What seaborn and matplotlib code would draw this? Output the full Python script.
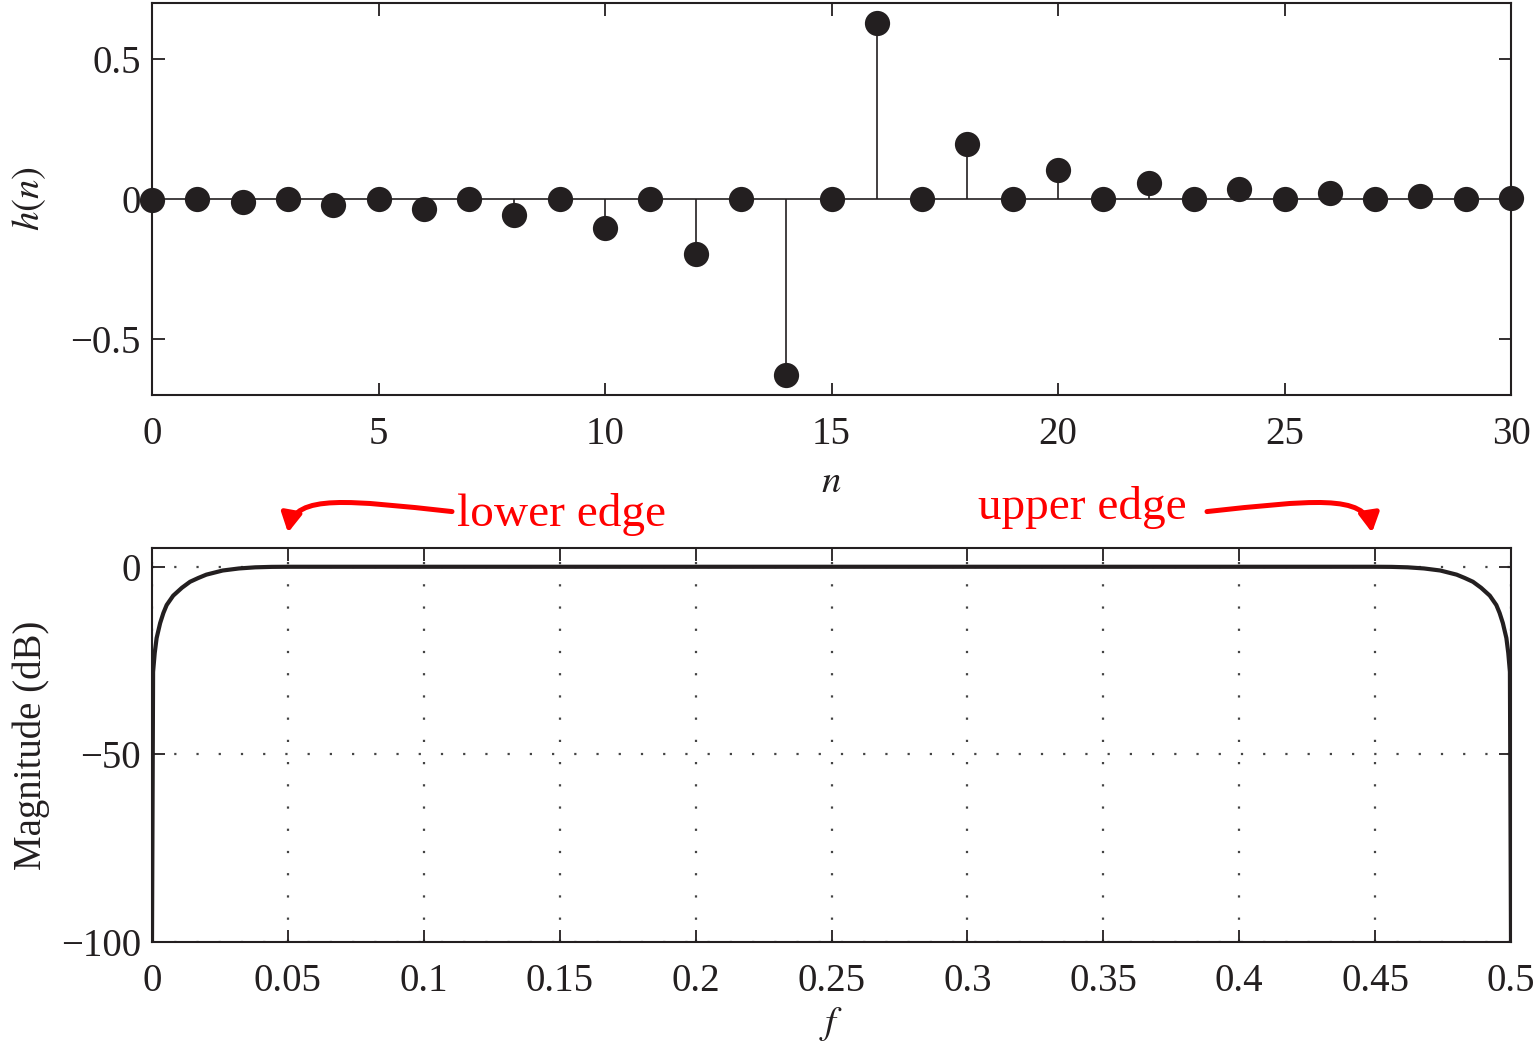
import numpy as np
import pandas as pd
import matplotlib
matplotlib.use("Agg")
import matplotlib.pyplot as plt
import seaborn as sns
from matplotlib.path import Path
from matplotlib.patches import FancyArrowPatch

# ---------------- data ----------------
n_idx = list(range(31))
h_vals = [-0.003, 0.0, -0.009, 0.0, -0.020, 0.0, -0.035, 0.0, -0.058, 0.0,
          -0.103, 0.0, -0.197, 0.0, -0.630, 0.0, 0.630, 0.0, 0.197, 0.0,
          0.103, 0.0, 0.058, 0.0, 0.035, 0.0, 0.020, 0.0, 0.009, 0.0, 0.003]

f_vals = [0.0, 0.0004, 0.0010, 0.0017, 0.0030, 0.0042, 0.0054, 0.0078, 0.011,
          0.014, 0.017, 0.020, 0.026, 0.032, 0.038, 0.044, 0.05, 0.1, 0.25,
          0.4, 0.45, 0.456, 0.462, 0.468, 0.474, 0.480, 0.483, 0.486, 0.489,
          0.4922, 0.4946, 0.4958, 0.4970, 0.4983, 0.4990, 0.4996, 0.5]
mag_db = [-100, -28, -23, -19, -15, -12.3, -10.2, -7.7, -5.6,
          -4.0, -3.0, -2.1, -1.0, -0.45, -0.15, -0.03, 0.0, 0.0, 0.0,
          0.0, 0.0, -0.03, -0.15, -0.45, -1.0, -2.1, -3.0, -4.0, -5.6,
          -7.7, -10.2, -12.3, -15, -19, -23, -28, -100]

top_xticks = [0, 5, 10, 15, 20, 25, 30]
top_xlabels = ["0", "5", "10", "15", "20", "25", "30"]
top_yticks = [-0.5, 0, 0.5]
top_ylabels = ["\u22120.5", "0", "0.5"]
bot_xticks = [0, 0.05, 0.1, 0.15, 0.2, 0.25, 0.3, 0.35, 0.4, 0.45, 0.5]
bot_xlabels = ["0", "0.05", "0.1", "0.15", "0.2", "0.25", "0.3", "0.35", "0.4", "0.45", "0.5"]
bot_yticks = [-100, -50, 0]
bot_ylabels = ["\u2212100", "\u221250", "0"]

df_h = pd.DataFrame({"n": n_idx, "h": h_vals})
df_m = pd.DataFrame({"f": f_vals, "dB": mag_db})

# ---------------- style ----------------
sns.set_theme(style="ticks")
plt.rcParams["font.family"] = ["Liberation Serif", "DejaVu Serif"]
plt.rcParams["mathtext.fontset"] = "stix"
plt.rcParams["axes.unicode_minus"] = True

ink = "#231f20"
fs = 28

fig = plt.figure(figsize=(15.33, 10.41), dpi=100)
W, H = 1533, 1041

def axrect(l, t, r, b):
    return [l / W, 1 - b / H, (r - l) / W, (b - t) / H]

ax1 = fig.add_axes(axrect(152, 3, 1511, 395))
ax2 = fig.add_axes(axrect(152, 548, 1511, 942))

for ax in (ax1, ax2):
    for s in ax.spines.values():
        s.set_linewidth(1.5)
        s.set_color(ink)
    ax.tick_params(direction="in", length=9, width=1.3, color=ink,
                   top=True, right=True, labelsize=fs, labelcolor=ink)
    ax.tick_params(axis="x", pad=15)
    ax.tick_params(axis="y", pad=8)

# ---- top: stem plot ----
ax1.plot([n_idx[0], n_idx[-1]], [0, 0], color=ink, lw=1.2, zorder=1)
ax1.vlines(df_h["n"], 0, df_h["h"], color=ink, lw=1.2, zorder=1)
sns.scatterplot(data=df_h, x="n", y="h", ax=ax1, s=330, color=ink,
                edgecolor=ink, linewidth=0, zorder=3, clip_on=False, legend=False)
ax1.set_xlim(0, 30)
ax1.set_ylim(-0.7, 0.7)
ax1.set_xticks(top_xticks)
ax1.set_xticklabels(top_xlabels)
ax1.set_yticks(top_yticks)
ax1.set_yticklabels(top_ylabels)
ax1.set_xlabel("$n$", fontsize=fs, color=ink, labelpad=8)
ax1.set_ylabel("$h(n)$", fontsize=fs, color=ink, labelpad=16)

# ---- bottom: magnitude ----
sns.lineplot(data=df_m, x="f", y="dB", ax=ax2, color=ink, linewidth=3.0,
             zorder=3, sort=False)
ax2.set_xlim(0, 0.5)
ax2.set_ylim(-100, 5)
ax2.set_xticks(bot_xticks)
ax2.set_xticklabels(bot_xlabels)
ax2.set_yticks(bot_yticks)
ax2.set_yticklabels(bot_ylabels)
ax2.grid(True, color="#444444", lw=1.6, linestyle=(0, (1, 9)), zorder=0)
ax2.set_xlabel("$f$", fontsize=fs, color=ink, labelpad=4)
ax2.set_ylabel("Magnitude (dB)", fontsize=28, color=ink, labelpad=8)

# ---- annotations ----
def px2data(x, y):
    f = (x - 152) / 2718.0
    d = (568 - y) / 3.74
    return (f, d)

red = "#ff0000"
ax2.text(*px2data(457, 527), "lower edge", color=red, fontsize=34,
         ha="left", va="baseline", clip_on=False)
ax2.text(*px2data(978, 520), "upper edge", color=red, fontsize=34,
         ha="left", va="baseline", clip_on=False)

for pts in ([(452, 513), (350, 502), (295, 495), (288, 534)],
            [(1207, 513), (1310, 502), (1366, 495), (1372, 534)]):
    verts = [px2data(*p) for p in pts]
    path = Path(verts, [Path.MOVETO, Path.CURVE4, Path.CURVE4, Path.CURVE4])
    arr = FancyArrowPatch(path=path, arrowstyle="-|>,head_length=7,head_width=3.8",
                          color=red, lw=3.6, transform=ax2.transData,
                          clip_on=False, mutation_scale=1.6)
    ax2.add_patch(arr)

fig.savefig("out.png", dpi=100)
